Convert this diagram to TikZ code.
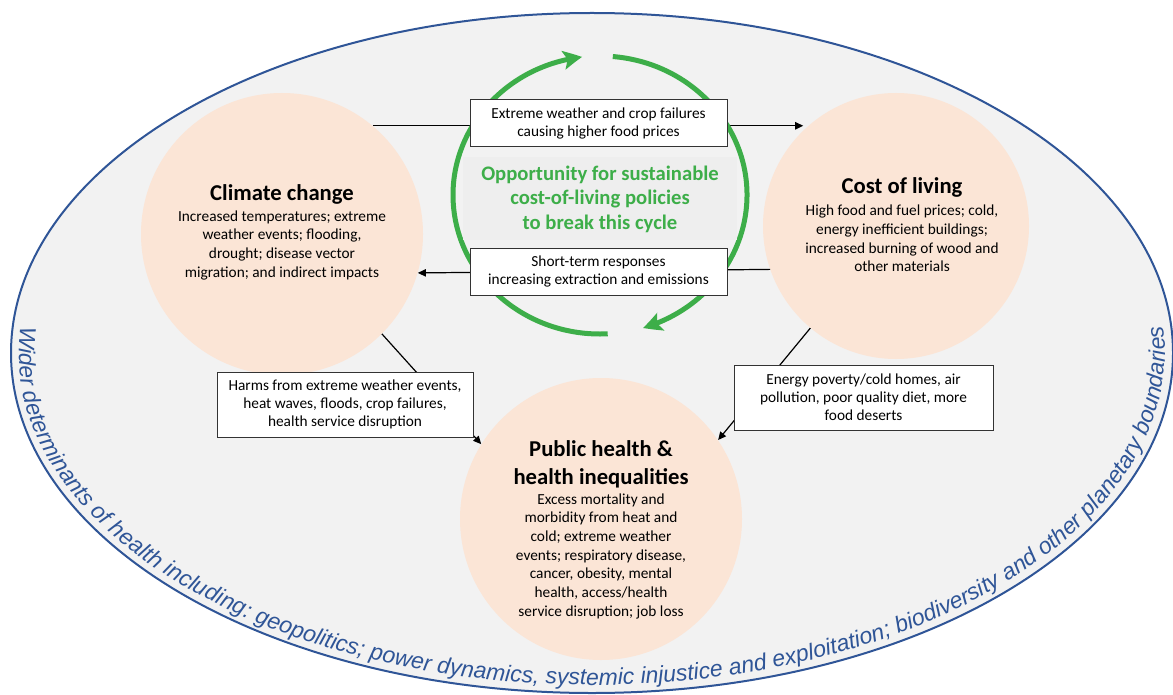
\documentclass[tikz,border=0pt]{standalone}
\usepackage{fontspec}
\setmainfont{Carlito}
\newfontfamily\arialfont{Liberation Sans}
\usetikzlibrary{arrows.meta,bending,decorations.text}
\definecolor{wblue}{HTML}{2F5597}
\definecolor{wgreen}{HTML}{3DAE49}
\definecolor{peach}{HTML}{FBE5D6}
\definecolor{bggray}{HTML}{F2F2F2}
\definecolor{oppgray}{HTML}{EEEEEE}
\begin{document}
\begin{tikzpicture}[x=0.75pt,y=-0.75pt,
  circ/.style={circle,fill=peach,inner sep=0pt},
  titletxt/.style={align=center,font=\fontsize{17}{21}\selectfont\bfseries,inner sep=0pt},
  bodytxt/.style={align=center,font=\fontsize{11.5}{14}\selectfont,inner sep=0pt},
  boxnode/.style={draw=black!80,line width=0.75pt,fill=white,align=center,font=\fontsize{11.5}{13.5}\selectfont,inner sep=0pt},
  conn/.style={line width=0.9pt,-{Triangle[length=6pt,width=5.5pt]}},
  ring/.style={wgreen,line width=3.75pt,-{Stealth[length=14pt,width=14pt,inset=3pt,bend]}}]
\useasboundingbox (0,0) rectangle (1173,695);
% outer ellipse
\draw[wblue,line width=1.5pt,fill=bggray] (592,353) ellipse [x radius=581, y radius=340];
% curved text
\path[decorate,decoration={text along path,text align=center,
  text={|\arialfont\itshape\fontsize{17.2}{20}\selectfont\color{wblue}|Wider determinants of health including: geopolitics; power dynamics, systemic injustice and exploitation; biodiversity and other planetary boundaries}}]
  (592,353) ++(-168:573 and 332) arc[start angle=-168,end angle=-372,x radius=573,y radius=332];
% circles
\node[circ,minimum size=211.5pt] (climate) at (282,234) {};
\node[circ,minimum size=199.5pt] (cost) at (896,226) {};
\node[circ,minimum size=211.5pt] (health) at (601,519) {};
% connectors
\draw[conn] (climate.50) -- ([xshift=-4pt]climate.50 -| cost.131);
\draw[conn] (cost.199) -- (climate.344);
\draw[conn] (climate.315) -- (health.148);
\draw[conn] (cost.230) -- (health.34);
% green cycle
\draw[ring] (600,195) ++(-85:147 and 139) arc[start angle=-85,end angle=73,x radius=147,y radius=139];
\draw[ring] (600,195) ++(87:147 and 139) arc[start angle=87,end angle=263,x radius=147,y radius=139];
\node[fill=oppgray,minimum width=205.5pt,minimum height=62.25pt,align=center,
  font=\fontsize{15.5}{18.4}\selectfont\bfseries,text=wgreen,inner sep=0pt] (opp) at (600,199)
  {Opportunity for sustainable\\cost-of-living policies\\to break this cycle};
% boxes
\node[boxnode,minimum width=192.75pt,minimum height=35.25pt] (topbox) at (598.5,123.5)
  {Extreme weather and crop failures\\causing higher food prices};
\node[boxnode,minimum width=192.75pt,minimum height=35.25pt] (botbox) at (598.5,271.5)
  {Short-term responses\\increasing extraction and emissions};
\node[boxnode,minimum width=192pt,minimum height=48.75pt] (harmbox) at (345,404.5)
  {Harms from extreme weather events,\\heat waves, floods, crop failures,\\health service disruption};
\node[boxnode,minimum width=194.25pt,minimum height=48.75pt] (enbox) at (863.5,397.5)
  {Energy poverty/cold homes, air\\pollution, poor quality diet, more\\food deserts};
% circle texts
\node[titletxt] (climatetitle) at (282,194) {Climate change};
\node[bodytxt] (climatebody) at (282,245) {Increased temperatures; extreme\\weather events; flooding,\\drought; disease vector\\migration; and indirect impacts};
\node[titletxt] (costtitle) at (902,187) {Cost of living};
\node[bodytxt] (costbody) at (902,238.5) {High food and fuel prices; cold,\\energy inefficient buildings;\\increased burning of wood and\\other materials};
\node[titletxt] (healthtitle) at (601,464) {Public health \&\\health inequalities};
\node[bodytxt] (healthbody) at (601,556) {Excess mortality and\\morbidity from heat and\\cold; extreme weather\\events; respiratory disease,\\cancer, obesity, mental\\health, access/health\\service disruption; job loss};
\end{tikzpicture}
\end{document}
